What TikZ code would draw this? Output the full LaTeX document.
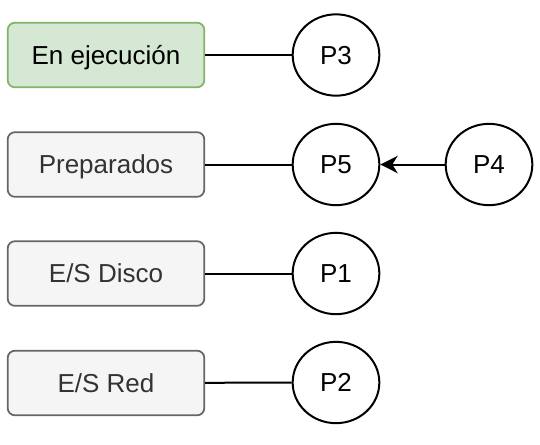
\documentclass[tikz,border=0pt]{standalone}
\usepackage{fontspec}
\setmainfont{Liberation Sans}
\usetikzlibrary{arrows.meta,shapes.geometric}
\definecolor{gfill}{HTML}{D5E8D4}
\definecolor{gdraw}{HTML}{82B366}
\definecolor{sfill}{HTML}{F5F5F5}
\definecolor{sdraw}{HTML}{666666}
\definecolor{stext}{HTML}{333333}
\begin{document}
\begin{tikzpicture}[x=0.75pt,y=-0.75pt,
  box/.style={rectangle,rounded corners=5.5pt,minimum width=147.5pt,minimum height=48.5pt,line width=1.3pt,font=\fontsize{19.5}{23}\selectfont,inner sep=0pt,text height=14pt,text depth=0pt},
  greybox/.style={box,draw=sdraw,fill=sfill,text=stext},
  greenbox/.style={box,draw=gdraw,fill=gfill,text=black},
  proc/.style={ellipse,draw=black,line width=1.5pt,minimum width=65pt,minimum height=61pt,inner sep=0pt,font=\fontsize{19.5}{23}\selectfont,text height=14pt,text depth=0pt},
  link/.style={line width=1.5pt},
  arr/.style={line width=1.5pt,-{Stealth[length=13pt,width=13pt,inset=4pt]}}]
\useasboundingbox (0,0) rectangle (540,444);
\node[greenbox] (run) at (106,55) {En ejecución};
\node[greybox] (prep) at (106,164.5) {Preparados};
\node[greybox] (disk) at (106,273.5) {E/S Disco};
\node[greybox] (net) at (106,383) {E/S Red};
\node[proc] (p3) at (336,55) {P3};
\node[proc] (p5) at (336,164.5) {P5};
\node[proc] (p4) at (489,164.5) {P4};
\node[proc] (p1) at (336,273.5) {P1};
\node[proc] (p2) at (336,382.5) {P2};
\draw[link] (run) -- (p3);
\draw[link] (prep) -- (p5);
\draw[link] (disk) -- (p1);
\draw[link] (net) -- (p2);
\draw[arr] (p4) -- (p5);
\end{tikzpicture}
\end{document}
